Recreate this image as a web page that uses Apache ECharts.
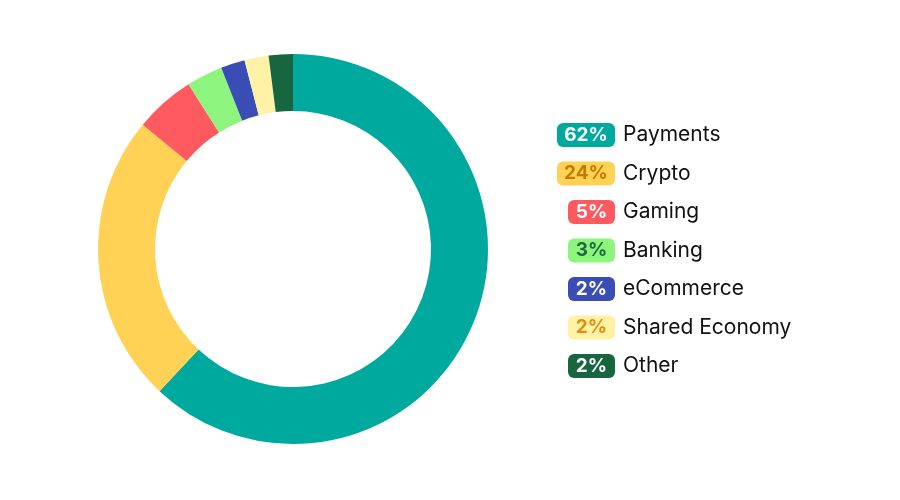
<!DOCTYPE html>
<html><head><meta charset="utf-8">
<script src="https://cdn.jsdelivr.net/npm/echarts@6/dist/echarts.min.js"></script>
<style>html,body{margin:0;background:#fff}#c{width:900px;height:500px}</style>
</head><body><div id="c"></div>
<script>
const categories = ['Payments','Crypto','Gaming','Banking','eCommerce','Shared Economy','Other'];
const values = [62,24,5,3,2,2,2];
const colors = ['#00A99D','#FFD155','#FF5A5F','#8DF57E','#3A4DB4','#FFF2A6','#18663F'];
const badgeText = ['#FFFFFF','#C47A00','#FFFFFF','#1B6B3C','#FFFFFF','#E08E0B','#FFFFFF'];

const rich = {
  name: {fontSize: 21, color: '#111', fontFamily: 'Inter', padding: [0,0,0,8], lineHeight: 24},
  sp: {width: 11, height: 24}
};
categories.forEach((c,i)=>{
  const two = String(values[i]).length > 1;
  rich['b'+i] = {
    backgroundColor: colors[i], color: badgeText[i], fontSize: 19, fontWeight: 'bold',
    fontFamily: 'Inter', borderRadius: 6, width: two ? 58 : 47, height: 24, lineHeight: 24,
    align: 'center', verticalAlign: 'middle'
  };
});

const chart = echarts.init(document.getElementById('c'));
chart.setOption({
  animation: false,
  legend: {
    orient: 'vertical', left: 547, top: 118, icon: 'none', itemWidth: 0, itemHeight: 0,
    itemGap: 14.5, data: categories,
    formatter: function(n){
      const i = categories.indexOf(n);
      const two = String(values[i]).length > 1;
      return (two ? '' : '{sp|}') + '{b'+i+'|'+values[i]+'%}{name|'+n+'}';
    },
    textStyle: {rich: rich}
  },
  series: [{
    type: 'pie', center: [293, 249], radius: [138, 195], startAngle: 90, clockwise: true,
    label: {show: false}, labelLine: {show: false}, silent: true,
    data: categories.map((c,i)=>({name: c, value: values[i], itemStyle: {color: colors[i]}}))
  }]
});
</script></body></html>
